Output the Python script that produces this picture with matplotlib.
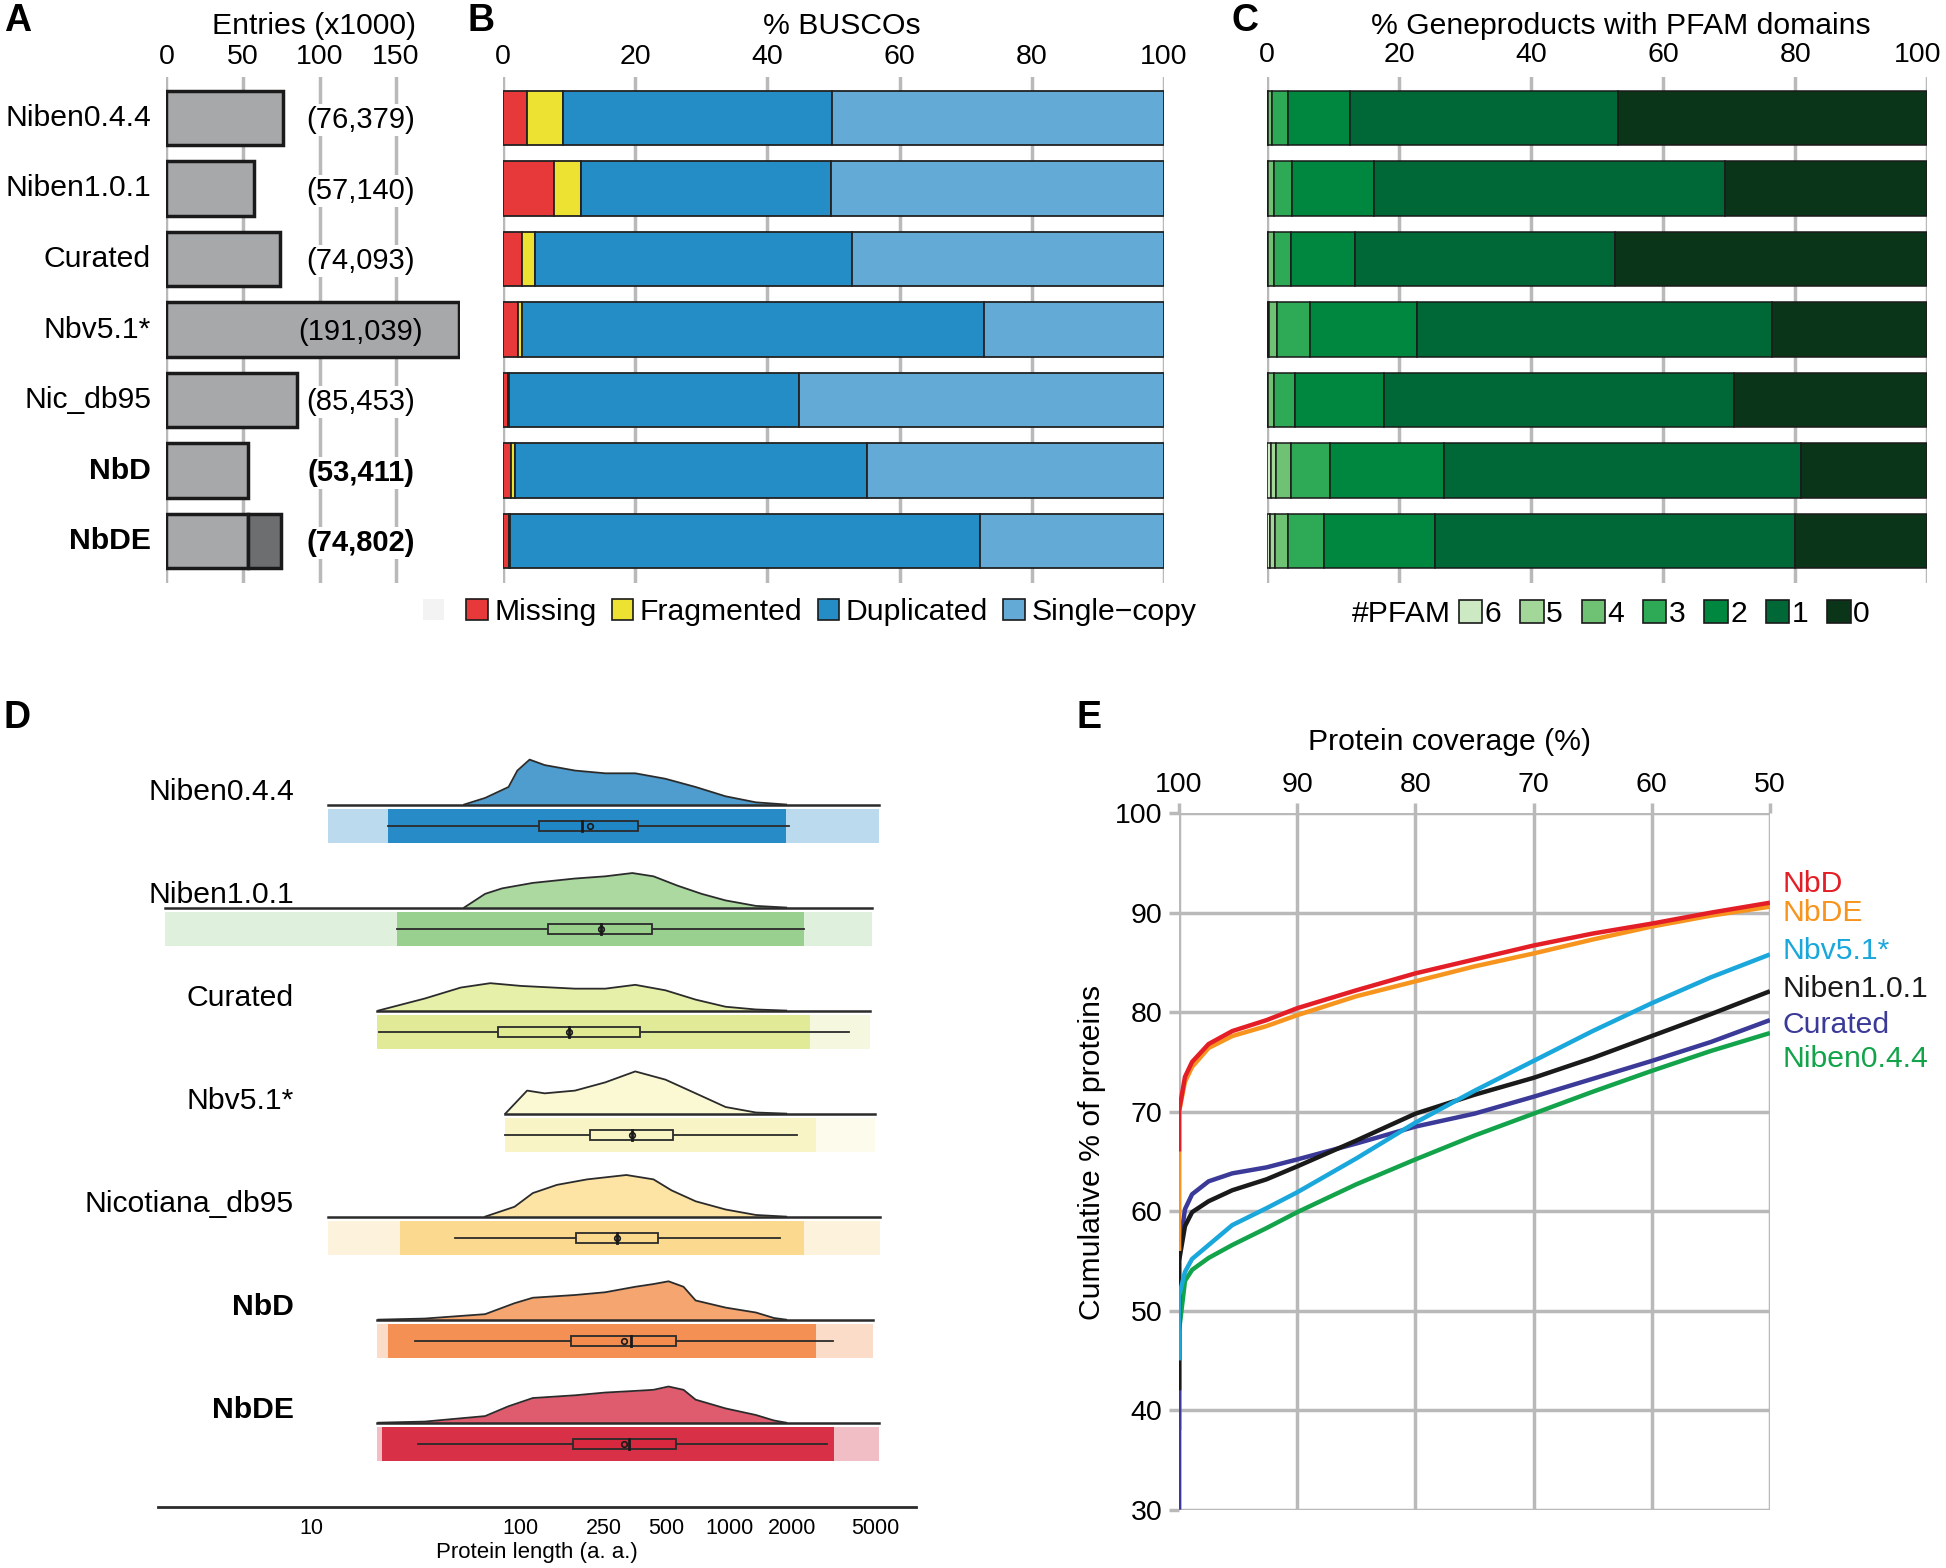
import matplotlib
matplotlib.use('Agg')
import matplotlib.pyplot as plt
from matplotlib.patches import Patch, Rectangle
import matplotlib.transforms as mtransforms

plt.rcParams['font.family'] = ['Liberation Sans', 'DejaVu Sans']

# ---------------- data ----------------
names_A = ['Niben0.4.4', 'Niben1.0.1', 'Curated', 'Nbv5.1*', 'Nic_db95', 'NbD', 'NbDE']
entries_total_k = [76.379, 57.140, 74.093, 191.039, 85.453, 53.411, 74.802]
entries_base_k = [76.379, 57.140, 74.093, 191.039, 85.453, 53.411, 53.411]
entries_labels = ['(76,379)', '(57,140)', '(74,093)', '(191,039)', '(85,453)', '(53,411)', '(74,802)']
bold_names = ['NbD', 'NbDE']
ticks_A = [0, 50, 100, 150]

busco_missing = [3.7, 7.8, 3.0, 2.3, 0.8, 1.3, 1.0]
busco_fragmented = [5.4, 4.1, 1.9, 0.7, 0.1, 0.6, 0.1]
busco_duplicated = [40.7, 37.7, 47.9, 69.8, 43.9, 53.2, 71.1]
busco_single = [50.2, 50.4, 47.2, 27.2, 55.2, 44.9, 27.8]
busco_labels = ['Missing', 'Fragmented', 'Duplicated', 'Single\u2212copy']

pfam_6 = [0.1, 0.1, 0.1, 0.1, 0.1, 0.6, 0.5]
pfam_5 = [0.1, 0.1, 0.1, 0.25, 0.1, 0.8, 0.7]
pfam_4 = [0.6, 0.8, 0.8, 1.2, 0.85, 2.3, 2.0]
pfam_3 = [2.3, 2.8, 2.7, 4.9, 3.15, 5.8, 5.5]
pfam_2 = [9.5, 12.4, 9.6, 16.2, 13.5, 17.3, 16.8]
pfam_1 = [40.6, 53.1, 39.4, 53.85, 53.0, 54.0, 54.4]
pfam_0 = [46.8, 30.7, 47.3, 23.5, 29.3, 19.2, 20.1]
pfam_labels = ['6', '5', '4', '3', '2', '1', '0']
pct_ticks = [0, 20, 40, 60, 80, 100]

# Panel D (protein length distributions)
names_D = ['Niben0.4.4', 'Niben1.0.1', 'Curated', 'Nbv5.1*', 'Nicotiana_db95', 'NbD', 'NbDE']
dens_x = [
    [54, 68, 88, 97, 111, 131, 183, 255, 355, 495, 690, 960, 1340, 1870],
    [54, 68, 82, 115, 183, 255, 344, 434, 565, 737, 960, 1340, 1870],
    [21, 35, 52, 72, 101, 183, 255, 355, 495, 690, 960, 1340, 1870],
    [85, 91, 108, 131, 183, 255, 355, 495, 690, 960, 1340, 1870],
    [68, 94, 115, 150, 209, 322, 434, 529, 690, 960, 1340, 1870],
    [21, 35, 68, 94, 115, 183, 255, 355, 434, 512, 604, 690, 960, 1340, 1634, 1870],
    [21, 35, 68, 88, 115, 183, 255, 355, 434, 512, 604, 690, 960, 1340, 1634, 1870],
]
dens_h = [
    [0, 12, 32, 62, 82, 72, 62, 57, 57, 47, 32, 15, 4, 0],
    [0, 25, 35, 45, 53, 57, 63, 57, 40, 25, 13, 3, 0],
    [0, 22, 42, 50, 45, 40, 40, 47, 37, 20, 7, 2, 0],
    [0, 12, 42, 37, 42, 57, 77, 62, 37, 12, 2, 0],
    [0, 18, 43, 58, 68, 76, 68, 48, 28, 13, 3, 0],
    [0, 2, 10, 30, 40, 45, 50, 60, 65, 70, 60, 35, 22, 13, 3, 0],
    [0, 2, 12, 30, 45, 50, 55, 58, 60, 66, 60, 42, 26, 14, 4, 0],
]
len_min = [12, 2.0, 20.7, 85, 12, 20.7, 20.7]
len_max = [5220, 4820, 4720, 4980, 5250, 4870, 5220]
dense_lo = [23.4, 25.8, 20.7, 85, 26.7, 23.4, 21.9]
dense_hi = [1870, 2275, 2430, 2600, 2275, 2600, 3170]
whisk_lo = [23.4, 25.8, 21.2, 85, 49, 31.5, 32.6]
q1 = [123, 136, 78.7, 216, 185, 175, 178]
median = [198, 243, 171, 343, 291, 339, 333]
mean = [216, 243, 171, 343, 291, 315, 315]
q3 = [367, 425, 374, 536, 454, 557, 555]
whisk_hi = [1930, 2275, 3740, 2100, 1745, 3130, 2930]
ticks_D = [10, 100, 250, 500, 1000, 2000, 5000]

# Panel E (protein coverage)
coverage = [100, 100, 99.5, 98.9, 97.5, 95.5, 92.6, 90, 85, 80, 75, 70, 65, 60, 55, 50]
cum_Niben044 = [38, 48, 53.0, 54.1, 55.3, 56.6, 58.3, 59.9, 62.7, 65.2, 67.6, 69.8, 72.0, 74.1, 76.1, 77.9]
cum_Niben101 = [42, 55, 58.5, 59.9, 61.0, 62.1, 63.2, 64.5, 67.1, 69.8, 71.7, 73.4, 75.4, 77.6, 79.8, 82.1]
cum_Curated = [30, 56, 60.2, 61.7, 63.0, 63.8, 64.4, 65.2, 66.8, 68.5, 69.8, 71.5, 73.3, 75.1, 77.0, 79.2]
cum_Nbv51 = [45, 51.5, 53.9, 55.2, 56.6, 58.6, 60.3, 61.9, 65.3, 68.9, 72.1, 75.1, 78.1, 80.9, 83.5, 85.8]
cum_NbDE = [56, 70, 73.0, 74.5, 76.4, 77.6, 78.6, 79.7, 81.6, 83.1, 84.6, 85.9, 87.3, 88.6, 89.7, 90.6]
cum_NbD = [66, 70.1, 73.5, 75.0, 76.8, 78.1, 79.2, 80.4, 82.2, 83.9, 85.3, 86.7, 87.9, 88.9, 90.0, 91.0]
cov_ticks = [100, 90, 80, 70, 60, 50]
cum_ticks = [30, 40, 50, 60, 70, 80, 90, 100]
E_names = ['NbD', 'NbDE', 'Nbv5.1*', 'Niben1.0.1', 'Curated', 'Niben0.4.4']
E_label_y = [92.9, 90.0, 86.1, 82.3, 78.7, 75.3]

# ---------------- figure ----------------
fig = plt.figure(figsize=(19.46, 15.68), dpi=100)
FS = 21.7
TFS = 20.5
GRID = '#b9b9b9'

def top_axis_style(ax, ticks, manual=False):
    for s in ax.spines.values():
        s.set_visible(False)
    ax.set_xticks(ticks)
    ax.xaxis.tick_top()
    ax.tick_params(axis='x', length=0, pad=5, labelsize=TFS)
    ax.set_yticks([])
    for t in ticks:
        ax.axvline(t, color=GRID, lw=2.5, zorder=0)
    if manual:
        ax.set_xticklabels([])
        tr = mtransforms.blended_transform_factory(ax.transData, ax.transAxes)
        for t in ticks:
            off = mtransforms.ScaledTranslation(-7 / 72 if t == ticks[-1] else 0, 0,
                                                fig.dpi_scale_trans)
            ax.text(t, 1.0 + 0.018, str(t), ha='center', va='bottom', fontsize=TFS,
                    transform=tr + off)

ylims_bar = (6.6, -0.58)
ypos = list(range(len(names_A)))
bh = 0.775

# ---- Panel A ----
axA = fig.add_axes([0.0855, 0.6279, 0.1511, 0.3230])
axA.set_xlim(0, 192)
axA.set_ylim(*ylims_bar)
top_axis_style(axA, ticks_A)
axA.barh(ypos, entries_base_k, height=bh, color='#a7a8aa', edgecolor='#1a1a1a', lw=2.5, zorder=2)
for i in ypos:
    extra = entries_total_k[i] - entries_base_k[i]
    if extra > 0:
        axA.barh(i, extra, left=entries_base_k[i], height=bh, color='#6d6e70',
                 edgecolor='#1a1a1a', lw=2.5, zorder=2)
for i, (nm, lab) in enumerate(zip(names_A, entries_labels)):
    w = 'bold' if nm in bold_names else 'normal'
    axA.text(-10, i, nm, ha='right', va='center', fontsize=FS, fontweight=w, clip_on=False)
    inside = entries_total_k[i] > 110
    bb = None if inside else dict(facecolor='white', edgecolor='none', pad=1.5)
    axA.text(127, i + 0.03, lab, ha='center', va='center', fontsize=21, fontweight=w,
             bbox=bb, zorder=3)

# ---- Panel B ----
axB = fig.add_axes([0.2583, 0.6279, 0.3399, 0.3230])
axB.set_xlim(0, 100)
axB.set_ylim(*ylims_bar)
top_axis_style(axB, pct_ticks)
busco_cols = ['#e8393a', '#ede232', '#258dc5', '#63abd6']
left = [0.0] * 7
for vals, col in zip([busco_missing, busco_fragmented, busco_duplicated, busco_single], busco_cols):
    axB.barh(ypos, vals, left=left, height=bh, color=col, edgecolor='#222222', lw=1.3, zorder=2)
    left = [a + b for a, b in zip(left, vals)]

# ---- Panel C ----
axC = fig.add_axes([0.6511, 0.6279, 0.3393, 0.3230])
axC.set_xlim(0, 100)
axC.set_ylim(*ylims_bar)
top_axis_style(axC, pct_ticks, manual=True)
pfam_cols = ['#cce9c4', '#a3d79a', '#6fc274', '#2eaa57', '#00873f', '#006837', '#0b3519']
left = [0.0] * 7
for vals, col in zip([pfam_6, pfam_5, pfam_4, pfam_3, pfam_2, pfam_1, pfam_0], pfam_cols):
    axC.barh(ypos, vals, left=left, height=bh, color=col, edgecolor='#1a1a1a', lw=1.1, zorder=2)
    left = [a + b for a, b in zip(left, vals)]

# titles and legends for A-C
fig.text(0.1614, 0.9834, 'Entries (x1000)', ha='center', va='center', fontsize=FS)
fig.text(0.4326, 0.9834, '% BUSCOs', ha='center', va='center', fontsize=FS)
fig.text(0.8330, 0.9834, '% Geneproducts with PFAM domains', ha='center', va='center', fontsize=FS)

hB = [Patch(facecolor='#f3f3f3', edgecolor='none')] + \
     [Patch(facecolor=c, edgecolor='#1a1a1a', lw=1.2) for c in busco_cols]
fig.legend(hB, [''] + busco_labels, loc='center', bbox_to_anchor=(0.416, 0.6097), ncol=5,
           frameon=False, fontsize=FS, handlelength=0.72, handleheight=0.72,
           handletextpad=0.22, columnspacing=0.5, borderpad=0)
fig.text(0.6945, 0.6083, '#PFAM', ha='left', va='center', fontsize=FS)
hC = [Patch(facecolor=c, edgecolor='#1a1a1a', lw=1.2) for c in pfam_cols]
fig.legend(hC, pfam_labels, loc='center', bbox_to_anchor=(0.8552, 0.6083), ncol=7,
           frameon=False, fontsize=FS, handlelength=0.78, handleheight=0.78,
           handletextpad=0.08, columnspacing=0.62, borderpad=0)

# ---- Panel D ----
axD = fig.add_axes([0.081, 0.0388, 0.3897, 0.4941])
axD.set_xscale('log')
axD.set_xlim(1.85, 7800)
axD.set_ylim(6.82, -0.70)
for s in ['top', 'left', 'right']:
    axD.spines[s].set_visible(False)
axD.spines['bottom'].set_linewidth(2)
axD.spines['bottom'].set_color('#2b2b2b')
axD.set_yticks([])
axD.set_xticks(ticks_D)
axD.set_xticklabels([str(t) for t in ticks_D])
axD.minorticks_off()
axD.tick_params(axis='x', length=0, pad=8, labelsize=15.5)
axD.set_xlabel('Protein length (a. a.)', fontsize=16, labelpad=2)
dens_col = ['#4e9dce', '#abd9a0', '#e7f0a8', '#fbf9d3', '#fde4a4', '#f5a570', '#df5c6e']
pt_col = ['#1f87c5', '#97cf8b', '#dfea93', '#f8f4c3', '#fbd98c', '#f48c4e', '#d7283f']
dscale = 0.436 / 82
for i, nm in enumerate(names_D):
    yy = [i - h * dscale for h in dens_h[i]]
    axD.fill_between(dens_x[i], i, yy, color=dens_col[i], lw=0, zorder=2)
    axD.plot(dens_x[i], yy, color='#2b2b2b', lw=1.3, zorder=3)
    axD.plot([len_min[i], len_max[i]], [i, i], color='#2b2b2b', lw=1.8, zorder=3)
    axD.fill_between([len_min[i], len_max[i]], i + 0.045, i + 0.375, color=pt_col[i],
                     alpha=0.3, lw=0, zorder=2)
    axD.fill_between([dense_lo[i], dense_hi[i]], i + 0.045, i + 0.375, color=pt_col[i],
                     alpha=0.95, lw=0, zorder=2)
    yb = i + 0.207
    axD.plot([whisk_lo[i], whisk_hi[i]], [yb, yb], color='#2b2b2b', lw=1.3, zorder=4)
    axD.add_patch(Rectangle((q1[i], yb - 0.048), q3[i] - q1[i], 0.096, facecolor=pt_col[i],
                            edgecolor='#2b2b2b', lw=1.3, zorder=5))
    axD.plot([median[i], median[i]], [yb - 0.048, yb + 0.048], color='#1a1a1a', lw=2, zorder=6)
    axD.plot([mean[i]], [yb], marker='o', ms=4, mfc='none', mec='#1a1a1a', mew=1.2, zorder=7)
    w = 'bold' if nm in bold_names else 'normal'
    axD.text(8.3, i - 0.12, nm, ha='right', va='center', fontsize=FS, fontweight=w, zorder=8)

# ---- Panel E ----
axE = fig.add_axes([0.6059, 0.0372, 0.3036, 0.4442])
axE.set_xlim(100, 50)
axE.set_ylim(30, 100)
for s in axE.spines.values():
    s.set_visible(False)
axE.set_xticks(cov_ticks)
axE.set_yticks(cum_ticks)
axE.xaxis.tick_top()
axE.tick_params(axis='x', length=7, color=GRID, width=2.5, pad=4, labelsize=TFS)
axE.tick_params(axis='y', length=7, color=GRID, width=2.5, pad=5, labelsize=TFS)
for t in cov_ticks:
    axE.axvline(t, color=GRID, lw=2.5, zorder=0)
for t in cum_ticks:
    axE.axhline(t, color=GRID, lw=2.5, zorder=0)
E_series = [cum_Niben044, cum_Curated, cum_Niben101, cum_Nbv51, cum_NbDE, cum_NbD]
E_cols = ['#13a34b', '#3b3a98', '#1a1a1a', '#1aa7dc', '#f7941d', '#e41e26']
for vals, col in zip(E_series, E_cols):
    axE.plot(coverage, vals, color=col, lw=3.2, solid_capstyle='butt', zorder=3)
E_label_cols = ['#e41e26', '#f7941d', '#1aa7dc', '#1a1a1a', '#3b3a98', '#13a34b']
for nm, yv, col in zip(E_names, E_label_y, E_label_cols):
    axE.text(48.9, yv, nm, color=col, ha='left', va='center', fontsize=FS, clip_on=False)
fig.text(0.7449, 0.5265, 'Protein coverage (%)', ha='center', va='center', fontsize=FS)
fig.text(0.5612, 0.2652, 'Cumulative % of proteins', ha='center', va='center',
         rotation=90, fontsize=FS)

# panel letters
for lab, x, y in [('A', 0.002, 0.9865), ('B', 0.240, 0.9865), ('C', 0.633, 0.9865),
                  ('D', 0.002, 0.5424), ('E', 0.553, 0.5424)]:
    fig.text(x, y, lab, ha='left', va='center', fontsize=27, fontweight='bold')

fig.savefig('out.png', dpi=100)
